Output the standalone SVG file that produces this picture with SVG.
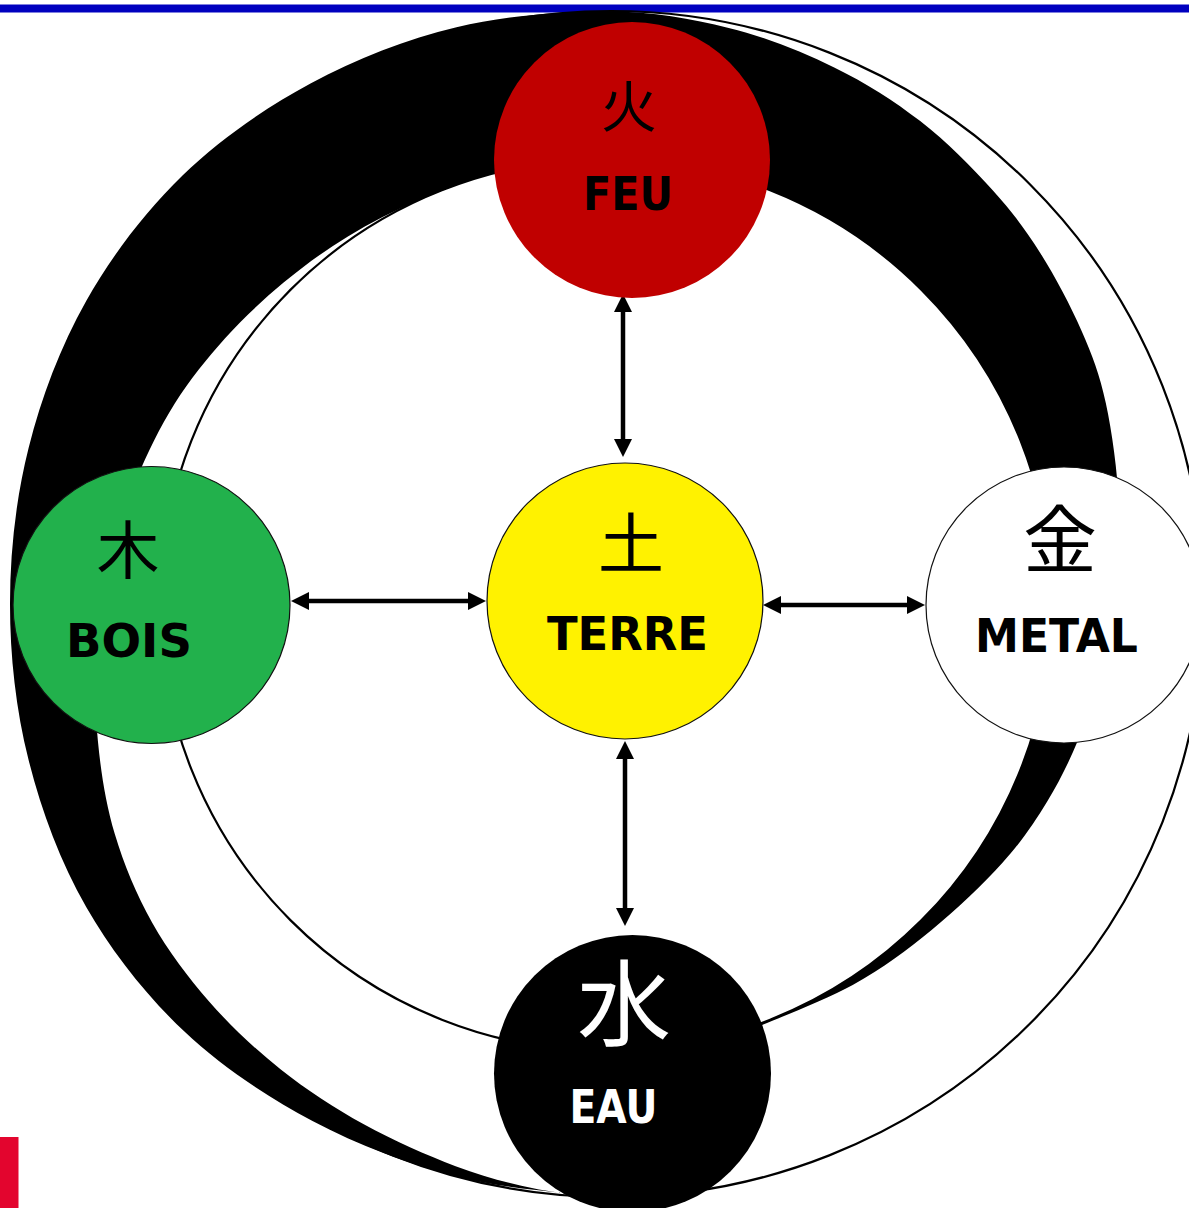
<svg xmlns="http://www.w3.org/2000/svg" width="1189" height="1208" viewBox="0 0 1189 1208">
<defs>
<style>
.ring{fill:none;stroke:#000;stroke-width:2.2}
.node{stroke-width:1.2}
.lbl{font-family:"DejaVu Sans","Liberation Sans",sans-serif;font-weight:bold;font-size:47px;text-anchor:middle}
.kan{font-family:"Noto Sans CJK JP","Noto Sans CJK SC",serif;text-anchor:middle;dominant-baseline:central}
.conn{stroke:#000;stroke-width:4.5;fill:none;marker-start:url(#ah);marker-end:url(#ah)}
</style>
<marker id="ah" markerUnits="userSpaceOnUse" markerWidth="18" markerHeight="18" refX="0" refY="9" orient="auto-start-reverse" viewBox="0 0 18 18">
<path d="M0,0 L18,9 L0,18 Z" fill="#000"/>
</marker>
</defs>
<rect x="0" y="0" width="1189" height="1208" fill="#fff"/>
<rect x="0" y="4.5" width="1189" height="8" fill="#0000bf"/>
<g id="rings">
<circle class="ring" cx="611" cy="604" r="593"/>
<path id="crescent" fill="#000" d="M745,1032 C762.95,1024.15 821.65,1001.85 852.7,984.9 C883.75,967.95 906.3,950.68 931.3,930.3 C956.3,909.92 983.38,884.08 1002.7,862.6 C1022.02,841.12 1034.65,821.78 1047.2,801.4 C1059.75,781.02 1069.17,761.45 1078,740.3 C1086.83,719.15 1094.2,697.05 1100.2,674.5 C1106.2,651.95 1110.88,633.2 1114,605 C1117.12,576.8 1120.27,538.95 1118.9,505.3 C1117.53,471.65 1112.05,432.23 1105.8,403.1 C1099.55,373.97 1092.3,355.48 1081.4,330.5 C1070.5,305.52 1055.18,276.57 1040.4,253.2 C1025.62,229.83 1012.73,212.32 992.7,190.3 C972.67,168.28 946.62,141.58 920.2,121.1 C893.78,100.62 866.12,82.93 834.2,67.4 C802.28,51.87 766.4,37.22 728.7,27.9 C691,18.58 653.37,11.6 608,11.5 C562.63,11.4 506.08,15.3 456.5,27.3 C406.92,39.3 356.17,58.8 310.5,83.5 C264.83,108.2 219.88,139.25 182.5,175.5 C145.12,211.75 111.85,255.58 86.2,301 C60.55,346.42 41.3,397.5 28.6,448 C15.9,498.5 10,552 10,604 C10,656 15.9,709.5 28.6,760 C41.3,810.5 60.32,861.82 86.2,907 C112.08,952.18 146.18,995.43 183.9,1031.1 C221.62,1066.77 266.9,1096.72 312.5,1121 C358.1,1145.28 409.47,1164.15 457.5,1176.8 C505.53,1189.45 576.83,1193.55 600.7,1196.9 C589.63,1195.52 558.48,1193.72 534.3,1188.6 C510.12,1183.48 484.02,1176.92 455.6,1166.2 C427.18,1155.48 392.93,1140.42 363.8,1124.3 C334.67,1108.18 306.55,1089.93 280.8,1069.5 C255.05,1049.07 230.73,1026.15 209.3,1001.7 C187.87,977.25 167.95,950.73 152.2,922.8 C136.45,894.87 123.85,864.38 114.8,834.1 C105.75,803.82 100.88,771.85 97.9,741.1 C94.92,710.35 94.9,679.52 96.9,649.6 C98.9,619.68 103.28,590 109.9,561.6 C116.52,533.2 125.82,505.5 136.6,479.2 C147.38,452.9 159.85,427.28 174.6,403.8 C189.35,380.32 206.93,358.5 225.1,338.3 C243.27,318.1 263.13,299.58 283.6,282.6 C304.07,265.62 325.58,250.03 347.9,236.4 C370.22,222.77 393.72,211.17 417.5,200.8 C441.28,190.43 465.67,180.88 490.6,174.2 A446,446 0 0,1 1052,605 A446,446 0 0,1 745,1029 Z"/>
<circle class="ring" cx="606" cy="605" r="446" stroke-width="2"/>
</g>
<g id="connectors">
<line class="conn" x1="623" y1="312" x2="623" y2="439"/>
<line class="conn" x1="309" y1="601" x2="468" y2="601"/>
<line class="conn" x1="781" y1="605" x2="907" y2="605"/>
<line class="conn" x1="625" y1="759" x2="625" y2="908"/>
</g>
<g id="feu">
<circle cx="632" cy="160" r="138" fill="#c00000"/>
<text class="kan" x="629" y="102" font-size="56">火</text>
<text class="lbl" x="628" y="210" textLength="90" lengthAdjust="spacingAndGlyphs">FEU</text>
</g>
<g id="bois">
<circle class="node" cx="151.5" cy="605" r="138.5" fill="#22b14c" stroke="#111"/>
<text class="kan" x="128" y="545" font-size="63">木</text>
<text class="lbl" x="129" y="657" textLength="126" lengthAdjust="spacingAndGlyphs">BOIS</text>
</g>
<g id="terre">
<circle class="node" cx="625" cy="601" r="138" fill="#fff200" stroke="#111"/>
<text class="kan" x="631" y="539" font-size="66">土</text>
<text class="lbl" x="627.5" y="650" textLength="161" lengthAdjust="spacingAndGlyphs">TERRE</text>
</g>
<g id="metal">
<circle class="node" cx="1064" cy="605" r="138" fill="#fff" stroke="#111"/>
<text class="kan" x="1060" y="534" font-size="74">金</text>
<text class="lbl" x="1056.5" y="652" textLength="163" lengthAdjust="spacingAndGlyphs">METAL</text>
</g>
<g id="eau">
<circle cx="632.5" cy="1073.5" r="138.5" fill="#000"/>
<text class="kan" x="624" y="998" font-size="94" fill="#fff">水</text>
<text class="lbl" x="613.5" y="1123" font-size="43" fill="#fff" textLength="88" lengthAdjust="spacingAndGlyphs">EAU</text>
</g>
<rect x="0" y="1137" width="18.5" height="71" fill="#e3052e"/>
</svg>
